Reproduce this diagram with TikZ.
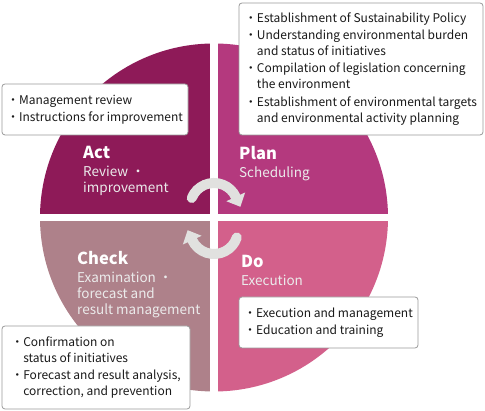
\documentclass[tikz,border=0pt]{standalone}
\usepackage{fontspec}
\setmainfont{Noto Sans CJK JP}
\usepackage{xcolor}
\usetikzlibrary{positioning,arrows.meta,bending}

\definecolor{actcol}{HTML}{8E1A58}
\definecolor{plancol}{HTML}{B4397E}
\definecolor{checkcol}{HTML}{AE818A}
\definecolor{docol}{HTML}{D3608B}
\definecolor{cyclecol}{HTML}{E1E1DF}
\definecolor{boxline}{HTML}{9A9A9A}

\begin{document}
\begin{tikzpicture}[x=1pt, y=1pt,
    infobox/.style={draw=boxline, line width=0.8pt, fill=white, rounded corners=3pt,
        align=left, inner sep=0pt, text=black!90, font=\fontsize{12}{16}\selectfont},
    phase/.style={anchor=base west, inner sep=0pt, text=white, font=\bfseries\fontsize{16.5}{20}\selectfont},
    phasesub/.style={anchor=base west, inner sep=0pt, align=left, text=white!92!black,
        font=\fontsize{13.5}{16}\selectfont},
    cyclearrow/.style={draw=cyclecol, line width=10pt, line cap=round,
        -{Triangle[length=11pt, width=20pt]}}]
    \useasboundingbox (0,0) rectangle (485,411);

    % four quadrants of the cycle
    \coordinate (c) at (214,193.5);
    \fill[plancol]  (c) -- ++(0:174)   arc[start angle=0,   end angle=90,  radius=174] -- cycle;
    \fill[actcol]   (c) -- ++(90:174)  arc[start angle=90,  end angle=180, radius=174] -- cycle;
    \fill[checkcol] (c) -- ++(180:174) arc[start angle=180, end angle=270, radius=174] -- cycle;
    \fill[docol]    (c) -- ++(270:174) arc[start angle=270, end angle=360, radius=174] -- cycle;
    \draw[white, line width=8pt]   ([yshift=-180pt]c) -- ([yshift=180pt]c);
    \draw[white, line width=7.5pt] ([xshift=-180pt]c) -- ([xshift=180pt]c);

    % turning arrows
    \coordinate (topc) at (214,204);
    \coordinate (botc) at (214,181);
    \draw[cyclearrow] ([shift={(158:24)}]topc) arc[start angle=158, end angle=25, radius=24] -- ++(-65:11);
    \draw[cyclearrow] ([shift={(-18:24)}]botc) arc[start angle=-18, end angle=-155, radius=24] -- ++(115:11);

    % phase names (base of a multi-line node is its last line)
    \node[phase] (act) at (83,252.5) {Act};
    \node[phasesub] (actsub) at (83,218.3) {Review ・\\improvement};
    \node[phase] (plan) at (239,251.7) {Plan};
    \node[phasesub] (plansub) at (239,233.7) {Scheduling};
    \node[phase] (check) at (77,146.7) {Check};
    \node[phasesub] (checksub) at (77,96.3) {Examination ・\\forecast and\\result management};
    \node[phase] (do) at (241,143.7) {Do};
    \node[phasesub] (dosub) at (241,125.3) {Execution};

    % activity boxes
    \node[infobox, minimum width=244pt, minimum height=132pt] (planbox) at (361,342)
        {・Establishment of Sustainability Policy\\[1.3pt]
         ・Understanding environmental burden\\
         \phantom{・}and status of initiatives\\[1.3pt]
         ・Compilation of legislation concerning\\
         \phantom{・}the environment\\[1.3pt]
         ・Establishment of environmental targets\\
         \phantom{・}and environmental activity planning};
    \node[infobox, minimum width=186pt, minimum height=51pt] (actbox) at (95,301.5)
        {・Management review\\[1.3pt]
         ・Instructions for improvement};
    \node[infobox, minimum width=179pt, minimum height=51pt] (dobox) at (328.5,88.5)
        {・Execution and management\\[1.3pt]
         ・Education and training};
    \node[infobox, minimum width=188pt, minimum height=83pt] (checkbox) at (96,43.5)
        {・Confirmation on\\
         \phantom{・}status of initiatives\\[1.3pt]
         ・Forecast and result analysis,\\
         \phantom{・}correction, and prevention};
\end{tikzpicture}
\end{document}
